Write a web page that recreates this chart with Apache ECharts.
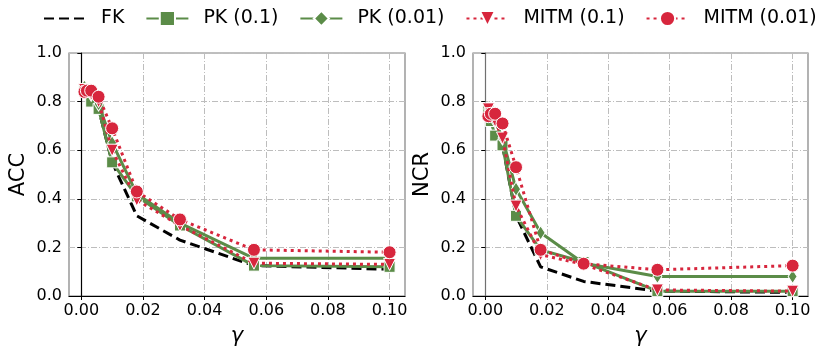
<!DOCTYPE html>
<html>
<head>
<meta charset="utf-8">
<script src="https://cdn.jsdelivr.net/npm/echarts@6/dist/echarts.min.js"></script>
<style>
	html, body { margin: 0; padding: 0; background: #fff; }
	#chart { width: 830px; height: 355px; }
</style>
</head>
<body>
<div id="chart"></div>
<script>
	'use strict'

	/*-----data-----*/
	var gammas = [0.001, 0.0018, 0.0032, 0.0056, 0.01, 0.018, 0.032, 0.056, 0.1];
	var xTicks = [0, 0.02, 0.04, 0.06, 0.08, 0.1];
	var seriesNames = ['FK', 'PK (0.1)', 'PK (0.01)', 'MITM (0.1)', 'MITM (0.01)'];

	var accFK = [0.83, 0.82, 0.81, 0.77, 0.55, 0.33, 0.23, 0.125, 0.11];
	var accPK01 = [0.85, 0.84, 0.80, 0.77, 0.55, 0.41, 0.29, 0.125, 0.12];
	var accPK001 = [0.86, 0.85, 0.83, 0.79, 0.63, 0.42, 0.30, 0.155, 0.155];
	var accMITM01 = [0.85, 0.84, 0.83, 0.80, 0.60, 0.395, 0.29, 0.135, 0.13];
	var accMITM001 = [0.84, 0.845, 0.845, 0.82, 0.69, 0.43, 0.315, 0.19, 0.18];

	var ncrFK = [0.72, 0.71, 0.70, 0.62, 0.33, 0.12, 0.06, 0.02, 0.015];
	var ncrPK01 = [0.76, 0.72, 0.66, 0.62, 0.33, 0.19, 0.14, 0.02, 0.02];
	var ncrPK001 = [0.77, 0.75, 0.72, 0.65, 0.44, 0.26, 0.135, 0.08, 0.08];
	var ncrMITM01 = [0.77, 0.75, 0.72, 0.65, 0.37, 0.17, 0.13, 0.025, 0.02];
	var ncrMITM001 = [0.74, 0.75, 0.75, 0.71, 0.53, 0.19, 0.133, 0.108, 0.125];

	var green = '#5b8c48';
	var red = '#d7263d';

	function pts(arr) {
		return gammas.map(function(g, i) { return [g, arr[i]]; });
	}

	var styles = [
		{ color: '#000000', type: [10, 5], symbol: 'none', size: 0, rotate: 0 },
		{ color: green, type: 'solid', symbol: 'rect', size: 11, rotate: 0 },
		{ color: green, type: 'solid', symbol: 'path://M0,-10L4,0L0,10L-4,0Z', size: [9, 14], rotate: 0 },
		{ color: red, type: [3, 4], symbol: 'triangle', size: 12, rotate: 180 },
		{ color: red, type: [3, 4], symbol: 'circle', size: 13, rotate: 0 }
	];

	function makeSeries(idx, datasets) {
		return datasets.map(function(arr, i) {
			var s = styles[i];
			return {
				name: seriesNames[i],
				type: 'line',
				xAxisIndex: idx,
				yAxisIndex: idx,
				data: pts(arr),
				symbol: s.symbol,
				symbolSize: s.size,
				symbolRotate: s.rotate,
				showSymbol: s.symbol !== 'none',
				z: 2 + i,
				itemStyle: { color: s.color, borderColor: '#ffffff', borderWidth: 1 },
				lineStyle: { color: s.color, width: 3, type: s.type },
				emphasis: { disabled: true },
				animation: false
			};
		});
	}

	function xAxis(idx) {
		return {
			type: 'value',
			gridIndex: idx,
			min: -0.004,
			max: 0.105,
			name: 'γ',
			nameLocation: 'middle',
			nameGap: 30,
			nameTextStyle: { fontFamily: 'DejaVu Sans', fontSize: 21, fontStyle: 'italic', color: '#000' },
			axisLine: { lineStyle: { color: '#000', width: 1.2 } },
			axisTick: { show: true, length: 4, customValues: xTicks, lineStyle: { color: '#000' } },
			axisLabel: {
				customValues: xTicks,
				fontFamily: 'DejaVu Sans', fontSize: 16, color: '#000', margin: 7,
				formatter: function(v) { return v.toFixed(2); }
			},
			splitLine: { show: true, lineStyle: { color: '#bdbdbd', width: 1, type: [6, 2, 1, 2] } }
		};
	}

	function yAxis(idx, name, spineColor) {
		return {
			type: 'value',
			gridIndex: idx,
			min: 0,
			max: 1,
			interval: 0.2,
			name: name,
			nameLocation: 'middle',
			nameGap: 40,
			nameRotate: 90,
			nameTextStyle: { fontFamily: 'DejaVu Sans', fontSize: 21, color: '#000' },
			axisLine: { show: true, lineStyle: { color: spineColor, width: 1.2 } },
			axisTick: { show: true, length: 4, lineStyle: { color: '#000' } },
			axisLabel: {
				fontFamily: 'DejaVu Sans', fontSize: 16, color: '#000', margin: 7,
				formatter: function(v) { return v.toFixed(1); }
			},
			splitLine: { show: true, lineStyle: { color: '#bdbdbd', width: 1, type: [6, 2, 1, 2] } }
		};
	}

	var chart = echarts.init(document.getElementById('chart'), null, { renderer: 'canvas' });
	var option = {
		animation: false,
		backgroundColor: '#ffffff',
		legend: {
			top: 4,
			left: 38,
			itemWidth: 42,
			itemHeight: 19,
			itemGap: 21,
			textStyle: { fontFamily: 'DejaVu Sans', fontSize: 19, color: '#000', padding: [0, 0, 0, 10] },
			data: [
				{ name: 'FK', itemStyle: { opacity: 0 } },
				'PK (0.1)', 'PK (0.01)', 'MITM (0.1)', 'MITM (0.01)'
			]
		},
		grid: [
			{ left: 69, top: 53, width: 336, height: 243, show: true, borderColor: '#808080', borderWidth: 1.2, backgroundColor: 'transparent' },
			{ left: 473, top: 53, width: 335, height: 243, show: true, borderColor: '#808080', borderWidth: 1.2, backgroundColor: 'transparent' }
		],
		xAxis: [xAxis(0), xAxis(1)],
		yAxis: [yAxis(0, 'ACC', '#000'), yAxis(1, 'NCR', '#707070')],
		series: makeSeries(0, [accFK, accPK01, accPK001, accMITM01, accMITM001])
			.concat(makeSeries(1, [ncrFK, ncrPK01, ncrPK001, ncrMITM01, ncrMITM001]))
	};
	chart.setOption(option);
</script>
</body>
</html>
